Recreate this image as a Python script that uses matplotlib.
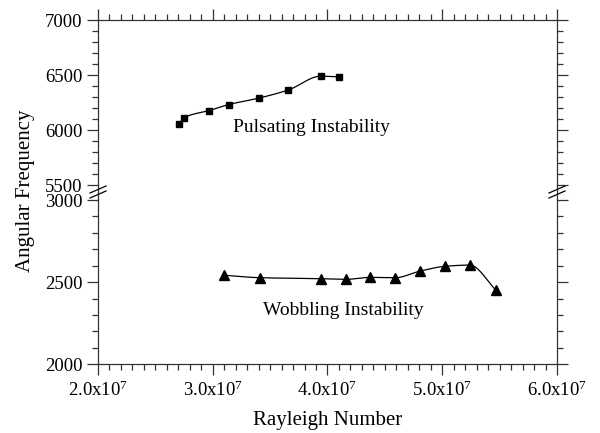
import numpy as np
import matplotlib
matplotlib.use('Agg')
import matplotlib.pyplot as plt
from matplotlib.lines import Line2D
from matplotlib.ticker import MultipleLocator, FuncFormatter

# Datos
ra_puls = [2.71e7, 2.75e7, 2.97e7, 3.14e7, 3.40e7, 3.66e7, 3.94e7, 4.10e7]
freq_puls = [6057, 6112, 6178, 6233, 6291, 6366, 6491, 6485]

ra_wob = [3.10e7, 3.41e7, 3.94e7, 4.16e7, 4.37e7, 4.59e7, 4.81e7, 5.02e7, 5.24e7, 5.47e7]
freq_wob = [2542, 2527, 2521, 2517, 2529, 2527, 2568, 2596, 2604, 2450]

x_ticks = [2e7, 3e7, 4e7, 5e7, 6e7]
label_puls = 'Pulsating Instability'
label_wob = 'Wobbling Instability'

plt.rcParams['font.family'] = ['Liberation Serif', 'DejaVu Serif']
plt.rcParams['mathtext.default'] = 'regular'
plt.rcParams['font.size'] = 13.5


def smooth(x, y, n=40):
    # interpolacion cubica monotona (tipo PCHIP), solo para dibujar la curva
    x = np.asarray(x, float)
    y = np.asarray(y, float)
    h = np.diff(x)
    d = np.diff(y) / h
    k = len(x)
    m = np.zeros(k)
    m[0], m[-1] = d[0], d[-1]
    for i in range(1, k - 1):
        if d[i - 1] * d[i] > 0:
            w1 = 2 * h[i] + h[i - 1]
            w2 = h[i] + 2 * h[i - 1]
            m[i] = (w1 + w2) / (w1 / d[i - 1] + w2 / d[i])
    xs_all, ys_all = [], []
    for i in range(k - 1):
        t = np.linspace(0, 1, n)
        h00 = 2 * t**3 - 3 * t**2 + 1
        h10 = t**3 - 2 * t**2 + t
        h01 = -2 * t**3 + 3 * t**2
        h11 = t**3 - t**2
        xs_all.append(x[i] + t * h[i])
        ys_all.append(h00 * y[i] + h10 * h[i] * m[i] + h01 * y[i + 1] + h11 * h[i] * m[i + 1])
    return np.concatenate(xs_all), np.concatenate(ys_all)


def fmt_x(v, pos):
    return '%.1fx10$^{7}$' % (v / 1e7)


fig = plt.figure(figsize=(6, 4.33), dpi=100)
left, width = 0.1633, 0.765
ax_top = fig.add_axes([left, 0.5727, width, 0.3804])
ax_bot = fig.add_axes([left, 0.1587, width, 0.3794])

for ax in (ax_top, ax_bot):
    ax.set_xlim(2e7, 6e7)
    ax.xaxis.set_major_locator(MultipleLocator(1e7))
    ax.xaxis.set_minor_locator(MultipleLocator(1e6))
    ax.tick_params(which='both', direction='out', width=0.9, color='#333333')
    ax.tick_params(which='major', length=8)
    ax.tick_params(which='minor', length=4.5)
    ax.tick_params(axis='y', left=True, right=True, labelleft=True, labelright=False,
                   which='both', pad=3)
    for s in ax.spines.values():
        s.set_linewidth(0.9)
        s.set_color('#333333')

ax_top.set_ylim(5500, 7000)
ax_top.yaxis.set_major_locator(MultipleLocator(500))
ax_top.yaxis.set_minor_locator(MultipleLocator(100))
ax_top.spines['bottom'].set_visible(False)
ax_top.tick_params(axis='x', which='both', top=True, bottom=False,
                   labeltop=False, labelbottom=False)

ax_bot.set_ylim(2000, 3000)
ax_bot.yaxis.set_major_locator(MultipleLocator(500))
ax_bot.yaxis.set_minor_locator(MultipleLocator(100))
ax_bot.spines['top'].set_visible(False)
ax_bot.tick_params(axis='x', which='both', top=False, bottom=True)
ax_bot.set_xticks(x_ticks)
ax_bot.xaxis.set_major_formatter(FuncFormatter(fmt_x))

# curvas
xs, ys = smooth(ra_puls, freq_puls)
ax_top.plot(xs, ys, color='black', lw=0.9)
ax_top.plot(ra_puls, freq_puls, 's', color='black', ms=4.8, clip_on=False)
xs, ys = smooth(ra_wob, freq_wob)
ax_bot.plot(xs, ys, color='black', lw=0.9)
ax_bot.plot(ra_wob, freq_wob, '^', color='black', ms=6.5, clip_on=False)

ax_top.text(3.18e7, 6020, label_puls, ha='left', va='center', fontsize=14)
ax_bot.text(3.44e7, 2330, label_wob, ha='left', va='center', fontsize=14)

# eje partido: une los ejes y dibuja las marcas //
W, H = 600, 433
for xp in (98, 557):
    fig.add_artist(Line2D([xp / W, xp / W], [0.5381, 0.5727], color='#333333', lw=0.9))
    for yc in (189.5, 194.5):
        fig.add_artist(Line2D([(xp - 8) / W, (xp + 8) / W],
                              [1 - (yc + 3.5) / H, 1 - (yc - 3.5) / H],
                              color='black', lw=0.9))

fig.text(0.5467, 0.03, 'Rayleigh Number', ha='center', va='center', fontsize=15)
fig.text(0.042, 0.56, 'Angular Frequency', ha='center', va='center',
         rotation=90, fontsize=15)

fig.savefig('out.png', dpi=100)
